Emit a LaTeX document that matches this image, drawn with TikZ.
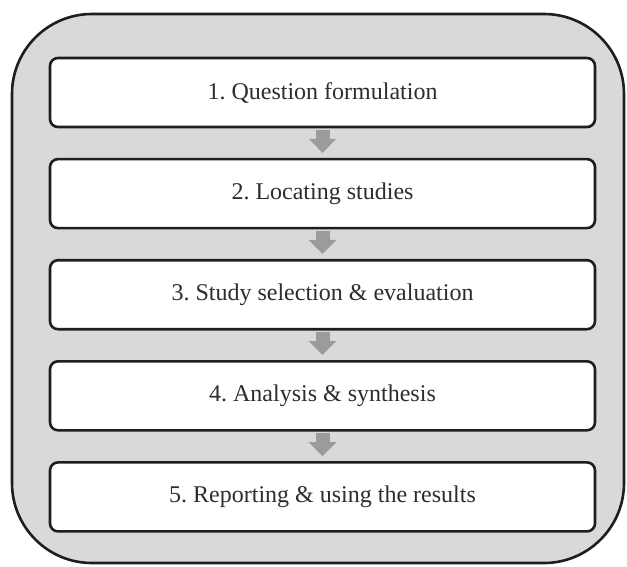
\documentclass[tikz,border=0pt]{standalone}
\usepackage{fontspec}
\setmainfont{Liberation Serif}
\usepackage{xcolor}
\usepackage{tikz}
\usetikzlibrary{arrows.meta, positioning}
\definecolor{frameGray}{RGB}{217, 217, 217}
\definecolor{lineDark}{RGB}{30, 30, 30}
\definecolor{textDark}{RGB}{45, 45, 45}
\definecolor{arrowGray}{RGB}{155, 155, 155}
\frenchspacing
\tikzset{
  stagebox/.style={
    rectangle, rounded corners=8pt,
    draw=lineDark, line width=2.6pt, fill=white,
    minimum width=545pt, minimum height=69pt,
    align=center, text=textDark,
    font=\fontsize{24}{28}\selectfont
  },
  flowarrow/.style={
    -{Triangle[width=27pt,length=14pt]},
    line width=14pt, color=arrowGray,
    shorten <=1.5pt, shorten >=5pt
  }
}

\begin{document}
\begin{tikzpicture}[x=1pt, y=-1pt, node distance=29.5pt]
\useasboundingbox (0,0) rectangle (627,566);

% --- outer frame ---
\draw[fill=frameGray, draw=lineDark, line width=2.6pt, rounded corners=80pt]
  (12,14) rectangle (624,563);

% --- stages ---
\node[stagebox] (question) at (322.5,92.5) {1. Question formulation};
\node[stagebox, below=of question] (locating) {2. Locating studies};
\node[stagebox, below=of locating] (selection) {3. Study selection \& evaluation};
\node[stagebox, below=of selection] (analysis) {4. Analysis \& synthesis};
\node[stagebox, below=of analysis] (reporting) {5. Reporting \& using the results};

% --- arrows ---
\draw[flowarrow] (question.south) -- (locating.north);
\draw[flowarrow] (locating.south) -- (selection.north);
\draw[flowarrow] (selection.south) -- (analysis.north);
\draw[flowarrow] (analysis.south) -- (reporting.north);

\end{tikzpicture}
\end{document}
